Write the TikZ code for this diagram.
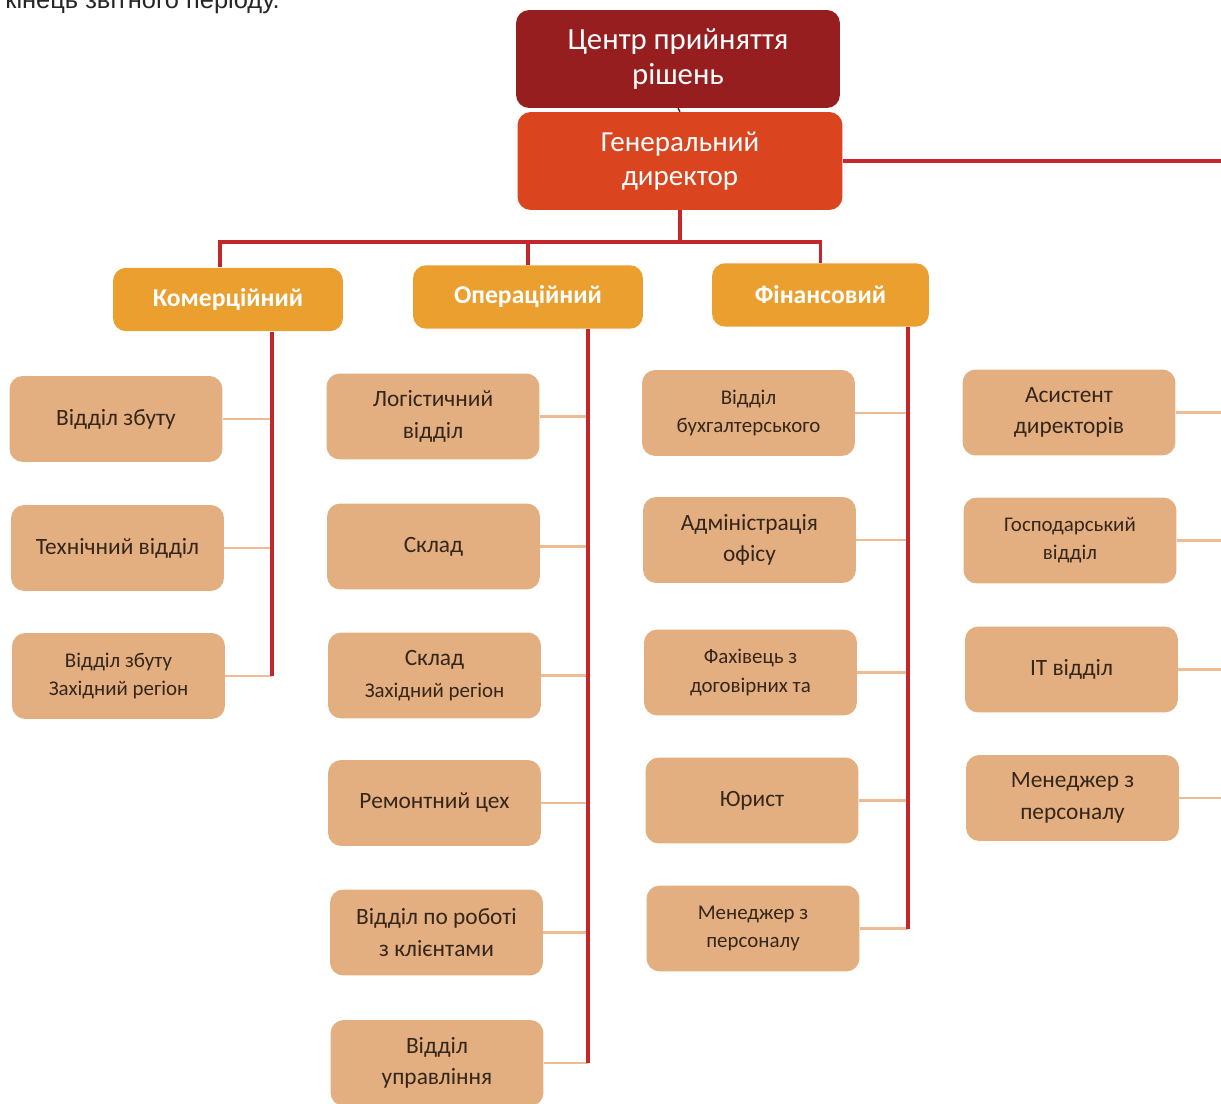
\documentclass[tikz,border=0pt]{standalone}
\usepackage{fontspec}
\setmainfont{Carlito}
\newfontfamily\arialf{Liberation Sans}
\definecolor{cDark}{HTML}{971E1F}
\definecolor{cGD}{HTML}{DA4520}
\definecolor{cDept}{HTML}{EA9F2E}
\definecolor{cUnit}{HTML}{E3AF80}
\definecolor{cText}{HTML}{35261B}
\definecolor{cRed}{HTML}{C3262B}
\definecolor{cTwig}{HTML}{EDBC94}
\tikzset{
  box/.style={rectangle, rounded corners=7.5pt, align=center, inner sep=2pt},
  topbox/.style={box, fill=cDark, text=white, minimum width=6.48cm, minimum height=1.96cm, font=\fontsize{17.5}{20}\selectfont},
  gdbox/.style={box, fill=cGD, text=white, minimum width=6.5cm, minimum height=1.96cm, font=\fontsize{16.5}{19.5}\selectfont},
  deptbox/.style={box, fill=cDept, text=white, minimum width=4.6cm, minimum height=1.27cm, font=\bfseries\fontsize{14.6}{17}\selectfont},
  unit/.style={box, fill=cUnit, text=cText, minimum width=4.26cm, minimum height=1.72cm, font=\fontsize{13.3}{18}\selectfont},
  unitsm/.style={unit, font=\fontsize{11.9}{16}\selectfont},
  spine/.style={draw=cRed, line width=2pt},
  twig/.style={draw=cTwig, line width=1.4pt}
}
\begin{document}
\begin{tikzpicture}[x=0.02cm, y=-0.02cm]
\useasboundingbox (0,0) rectangle (1221,1104);
% top-left text, cut by the page edge as in the source
\node[anchor=base west, inner sep=0pt, font=\arialf\fontsize{14.5}{16}\selectfont, text=black!85] (cap) at (5,9) {кінець звітного періоду.};

% top boxes
\node[topbox] (ctr) at (678,59) {Центр прийняття\\рішень};
\node[gdbox] (gd) at (680,161) {Генеральний\\директор};
\draw[draw=cDark!70!black, line width=0.8pt] (ctr.south) -- (gd.north);

% departments
\node[deptbox] (kom) at (228,299.5) {Комерційний};
\node[deptbox] (ops) at (528,297) {Операційний};
\node[deptbox, minimum width=4.34cm] (fin) at (820.5,295) {Фінансовий};

% bus
\coordinate (bus) at (0,242);
\draw[spine] (gd.south) -- (gd.south |- bus);
\draw[spine] (kom.north -| 220,0) -- (220,242) -- (fin.north |- bus) -- (fin.north);
\draw[spine] (ops.north) -- (ops.north |- bus);

% right branch
\coordinate (rs) at (1223,0);
\draw[spine] (gd.east) -- (gd.east -| rs);

% column 1
\node[unit] (a1) at (116,419) {Відділ збуту};
\node[unit] (a2) at (117.5,548) {Технічний відділ};
\node[unitsm] (a3) at (118.5,676) {Відділ збуту\\Західний регіон};
% column 2
\node[unit] (b1) at (433,416.5) {Логістичний\\відділ};
\node[unit] (b2) at (433.5,546.5) {Склад};
\node[unit] (b3) at (434.5,675.5) {Склад\\{\fontsize{11.9}{16}\selectfont Західний регіон}};
\node[unit] (b4) at (434.5,803) {Ремонтний цех};
\node[unit] (b5) at (436.5,932.5) {Відділ по роботі\\з клієнтами};
\node[unit] (b6) at (437,1063) {Відділ\\управління};
% column 3
\node[unitsm] (c1) at (748.5,413) {Відділ\\бухгалтерського};
\node[unit] (c2) at (749.5,540) {Адміністрація\\офісу};
\node[unitsm] (c3) at (750.5,672.5) {Фахівець з\\договірних та};
\node[unit] (c4) at (752,800.5) {Юрист};
\node[unitsm] (c5) at (753,928.5) {Менеджер з\\персоналу};
% column 4
\node[unit] (d1) at (1069,412.5) {Асистент\\директорів};
\node[unitsm] (d2) at (1070,540.5) {Господарський\\відділ};
\node[unit] (d3) at (1071.5,669.5) {IT відділ};
\node[unit] (d4) at (1072.5,798) {Менеджер з\\персоналу};

% spines
\coordinate (sa) at (272,0);
\coordinate (sb) at (588,0);
\coordinate (sc) at (908,0);
\foreach \n in {a1,a2,a3} \draw[twig] (\n.east) -- (\n.east -| sa);
\foreach \n in {b1,b2,b3,b4,b5,b6} \draw[twig] (\n.east) -- (\n.east -| sb);
\foreach \n in {c1,c2,c3,c4,c5} \draw[twig] (\n.east) -- (\n.east -| sc);
\foreach \n in {d1,d2,d3,d4} \draw[twig] (\n.east) -- (\n.east -| rs);
\draw[spine] (kom.south -| sa) -- (sa |- a3.east);
\draw[spine] (ops.south -| sb) -- (sb |- b6.east);
\draw[spine] (fin.south -| sc) -- (sc |- c5.east);
\draw[spine] (rs |- gd.east) -- (rs |- d4.east);
\end{tikzpicture}
\end{document}
